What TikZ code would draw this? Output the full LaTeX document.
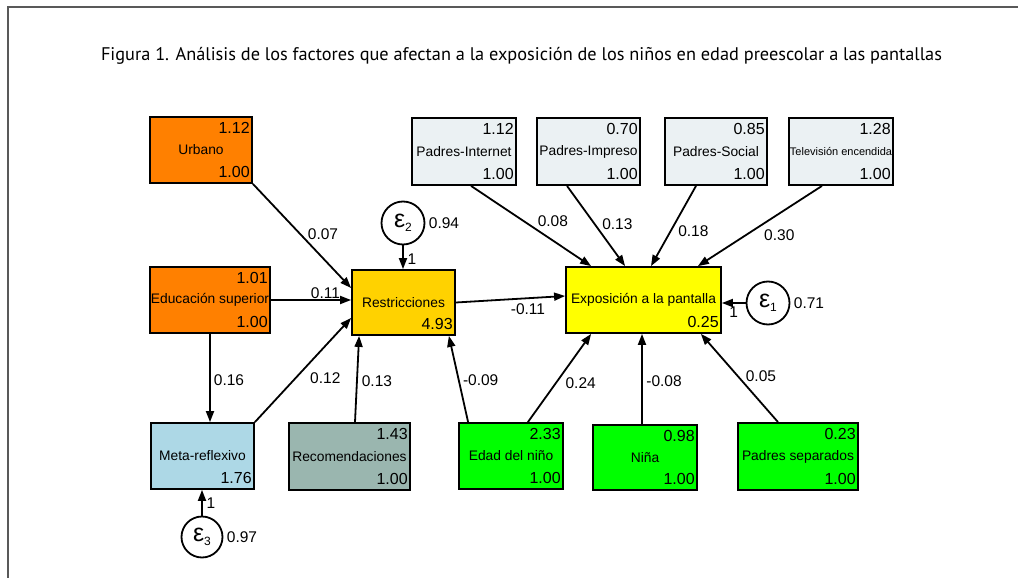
\documentclass[tikz,border=0pt]{standalone}
\usepackage{fontspec}
\setmainfont{Liberation Sans}
\newfontfamily\titlefont{PT Sans}
\usetikzlibrary{arrows.meta}

\definecolor{semorange}{HTML}{FF8000}
\definecolor{semgold}{HTML}{FFD200}
\definecolor{semyellow}{HTML}{FFFF00}
\definecolor{sempale}{HTML}{EBF1F3}
\definecolor{semblue}{HTML}{ADD8E6}
\definecolor{semsage}{HTML}{9AB6AF}
\definecolor{semgreen}{HTML}{00FF00}

\tikzset{
    var/.style={draw=black, line width=1.8pt, minimum height=66pt, inner sep=0pt,
        font=\fontsize{13.8}{15}\selectfont},
    num/.style={font=\fontsize{16}{18}\selectfont, inner xsep=3pt, inner ysep=6.5pt},
    err/.style={circle, draw=black, line width=1.8pt, minimum size=43pt, inner sep=0pt,
        font=\fontsize{25}{27}\selectfont},
    path/.style={->, line width=1.8pt},
    elab/.style={font=\fontsize{15.5}{17}\selectfont},
    >={Triangle[length=11pt,width=8pt]}
}

\newcommand{\eps}[1]{ε\raisebox{-4pt}{\fontsize{12}{12}\selectfont #1}}

\begin{document}
\begin{tikzpicture}[x=1pt,y=-1pt]
    \useasboundingbox (0,0) rectangle (1018,578);
    % Frame and title
    \draw[black!65, line width=1.3pt] (8,578) -- (8,7) -- (1018,7);
    \node (title) at (521.5,56) {\titlefont\fontsize{18.3}{20}\selectfont Figura 1. Análisis de los factores que afectan a la exposición de los niños en edad preescolar a las pantallas};

    % Exogenous variables on the left
    \node[var, fill=semorange, minimum width=102pt,
        label={[num, anchor=north east]north east:1.12},
        label={[num, anchor=south east]south east:1.00}] (urb) at (201,150) {Urbano};
    \node[var, fill=semorange, minimum width=120pt,
        label={[num, anchor=north east]north east:1.01},
        label={[num, anchor=south east]south east:1.00}] (edu) at (210,300) {Educación superior};
    \node[var, fill=semblue, minimum width=103pt,
        label={[num, anchor=south east]south east:1.76}] (meta) at (202.5,456) {Meta-reflexivo};
    \node[var, fill=semsage, minimum width=121pt, minimum height=67pt,
        label={[num, anchor=north east]north east:1.43},
        label={[num, anchor=south east]south east:1.00}] (rec) at (349.5,456.5) {Recomendaciones};

    % Restricciones
    \node[var, fill=semgold, minimum width=103pt, minimum height=65pt,
        label={[num, anchor=south east]south east:4.93}] (res) at (403.5,302.5) {Restricciones};
    \node[err] (e2) at (403,223) {\eps{2}};
    \node[elab, right=0pt] at (e2.east) (e2v) {0.94};

    % Parents' media use
    \node[var, fill=sempale, minimum width=104pt, minimum height=67pt,
        label={[num, anchor=north east]north east:1.12},
        label={[num, anchor=south east]south east:1.00}] (pin) at (464,151.5) {Padres-Internet};
    \node[var, fill=sempale, minimum width=103pt, minimum height=67pt,
        label={[num, anchor=north east]north east:0.70},
        label={[num, anchor=south east]south east:1.00}] (pim) at (588.5,151.5) {Padres-Impreso};
    \node[var, fill=sempale, minimum width=102pt, minimum height=67pt,
        label={[num, anchor=north east]north east:0.85},
        label={[num, anchor=south east]south east:1.00}] (psoc) at (716,151.5) {Padres-Social};
    \node[var, fill=sempale, minimum width=104pt, minimum height=67pt,
        label={[num, anchor=north east]north east:1.28},
        label={[num, anchor=south east]south east:1.00}] (tv) at (841,151.5) {\fontsize{11}{12}\selectfont Televisión encendida};

    % Exposición
    \node[var, fill=semyellow, minimum width=155pt,
        label={[num, anchor=south east]south east:0.25}] (exp) at (643.5,300) {Exposición a la pantalla};
    \node[err] (e1) at (768,303) {\eps{1}};
    \node[elab, right=0pt] at (e1.east) (e1v) {0.71};

    % Child variables
    \node[var, fill=semgreen, minimum width=104pt,
        label={[num, anchor=north east]north east:2.33},
        label={[num, anchor=south east]south east:1.00}] (edad) at (511,456) {Edad del niño};
    \node[var, fill=semgreen, minimum width=104pt, minimum height=65pt,
        label={[num, anchor=north east]north east:0.98},
        label={[num, anchor=south east]south east:1.00}] (nina) at (645,457.5) {Niña};
    \node[var, fill=semgreen, minimum width=120pt, minimum height=67pt,
        label={[num, anchor=north east]north east:0.23},
        label={[num, anchor=south east]south east:1.00}] (sep) at (798,456.5) {Padres separados};

    \node[err, minimum size=41pt] (e3) at (202,537) {\eps{3}};
    \node[elab, right=0pt] at (e3.east) (e3v) {0.97};

    % Paths into Restricciones
    \draw[path] (urb.south east) -- ([yshift=14.5pt]res.west) node[elab, pos=.48, xshift=23pt] {0.07};
    \draw[path] (edu.east) -- (edu.east -| res.west) node[elab, pos=.68, yshift=7pt] {0.11};
    \draw[path] (meta.north east) -- ([yshift=-15.5pt]res.west) node[elab, pos=.42, xshift=30pt] {0.12};
    \draw[path] (edu.south) -- (edu.south |- meta.north) node[elab, pos=.53, xshift=19pt] {0.16};
    \draw[path] ([xshift=5.5pt]rec.north) -- ([xshift=8pt]res.south west) node[elab, pos=.47, xshift=20pt] {0.13};
    \draw[path] ([xshift=10pt]edad.north west) -- ([xshift=-7pt]res.south east) node[elab, pos=.49, xshift=22pt] {-0.09};
    \draw[path] (e2.south) -- (e2.south |- res.north) node[elab, pos=.6, xshift=9pt] {1};

    % Paths into Exposición
    \draw[path] (res.east) -- ([yshift=4pt]exp.west) node[elab, pos=.66, yshift=-10.5pt] {-0.11};
    \draw[path] ([xshift=-36pt]edad.north east) -- ([xshift=26pt]exp.south west) node[elab, pos=.44, xshift=25pt] {0.24};
    \draw[path] ([xshift=-3pt]nina.north) -- ([xshift=-1.5pt]exp.south) node[elab, pos=.48, xshift=22pt] {-0.08};
    \draw[path] ([xshift=-20pt]sep.north) -- ([xshift=-21pt]exp.south east) node[elab, pos=.52, xshift=23pt] {0.05};
    \draw[path] ([xshift=7pt]pin.south) -- ([xshift=26pt]exp.north west) node[elab, pos=.44, xshift=29pt] {0.08};
    \draw[path] ([xshift=-21.5pt]pim.south) -- ([xshift=60pt]exp.north west) node[elab, pos=.48, xshift=22.5pt] {0.13};
    \draw[path] ([xshift=-20pt]psoc.south) -- ([xshift=7.5pt]exp.north) node[elab, pos=.57, xshift=23pt] {0.18};
    \draw[path] ([xshift=-19pt]tv.south) -- ([xshift=-24pt]exp.north east) node[elab, pos=.61, xshift=33pt] {0.30};
    \draw[path] (e1.west) -- (e1.west -| exp.east) node[elab, pos=.5, yshift=-9pt] {1};

    % Meta-reflexivo error
    \draw[path] (e3.north) -- (e3.north |- meta.south) node[elab, pos=.5, xshift=9pt] {1};
\end{tikzpicture}
\end{document}
